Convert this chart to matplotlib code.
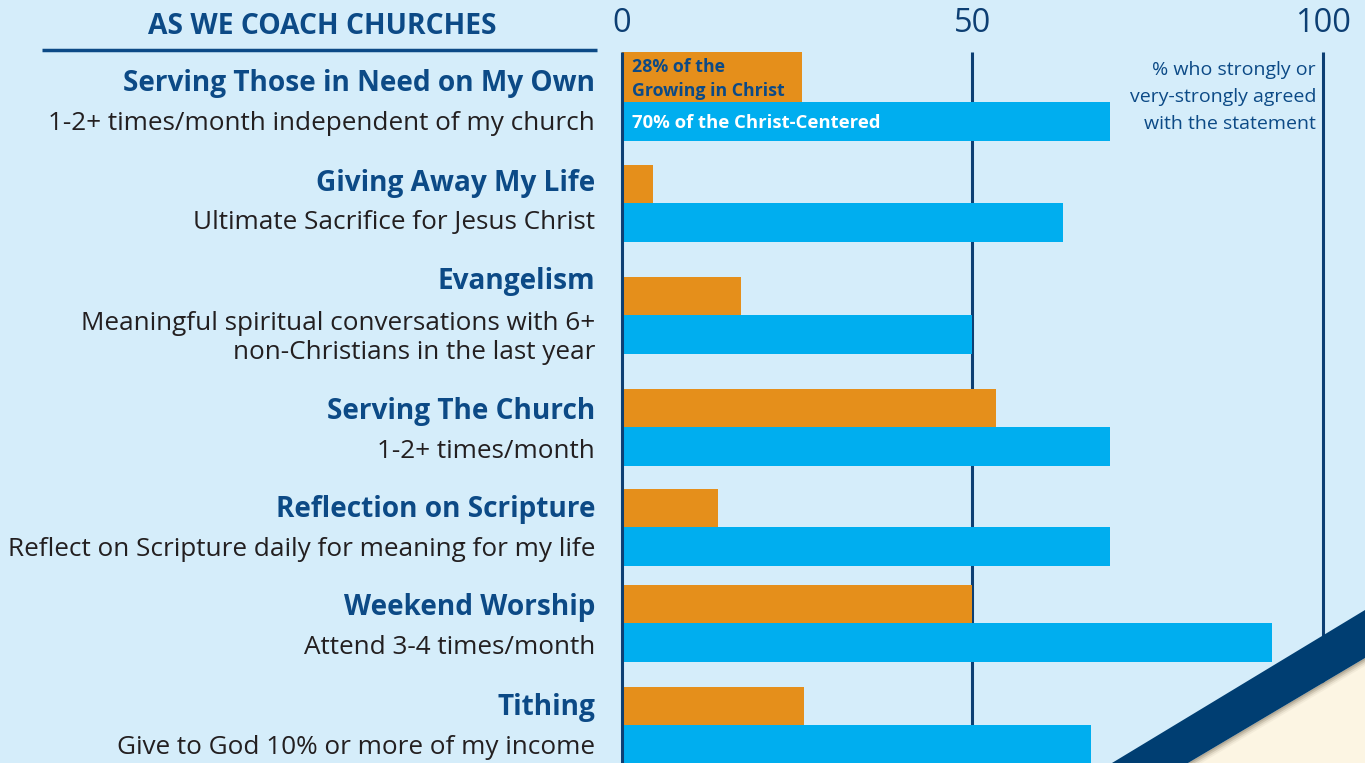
import matplotlib
matplotlib.use("Agg")
import matplotlib.pyplot as plt
from matplotlib.patches import Polygon

# ---------------- data ----------------
titles = ["Serving Those in Need on My Own", "Giving Away My Life", "Evangelism",
          "Serving The Church", "Reflection on Scripture", "Weekend Worship", "Tithing"]
subtitles = ["1-2+ times/month independent of my church", "Ultimate Sacrifice for Jesus Christ",
             "Meaningful spiritual conversations with 6+\nnon-Christians in the last year",
             "1-2+ times/month", "Reflect on Scripture daily for meaning for my life",
             "Attend 3-4 times/month", "Give to God 10% or more of my income"]
growing = [25.7, 4.4, 17.0, 53.3, 13.7, 50.0, 25.9]        # orange: Growing in Christ
centered = [69.6, 62.9, 50.0, 69.6, 69.6, 92.7, 66.9]      # blue: Christ-Centered
tick_values = [0, 50, 100]
header = "AS WE COACH CHURCHES"
note = "% who strongly or\nvery-strongly agreed\nwith the statement"
label_growing = "28% of the\nGrowing in Christ"
label_centered = "70% of the Christ-Centered"

# ---------------- layout (pixel space) ----------------
W, H = 1365, 763
BG = "#d5edfa"
ORANGE = "#e58f1b"
BLUE = "#00aeef"
NAVY = "#0c4a86"
LINE = "#0d3f73"
GRAY = "#231f20"
FONT = ["Open Sans", "DejaVu Sans"]

group_tops = [52, 165, 277, 389, 489, 585, 687]
orange_h = [50, 38, 38, 38, 38, 38, 38]
blue_h = 39
title_y = [84, 183, 282, 411, 510, 608, 707]
sub_y = [124, 223, 338, 451, 550, 648, 747]

fig = plt.figure(figsize=(W / 100, H / 100), dpi=100)
fig.patch.set_facecolor(BG)

x0_px, x100_px = 622, 1323
ax = fig.add_axes([x0_px / W, 0, (x100_px - x0_px) / W, 1])
ax.set_xlim(0, 100)
ax.set_ylim(H, 0)
ax.axis("off")

ov = fig.add_axes([0, 0, 1, 1], zorder=5)
ov.set_xlim(0, W)
ov.set_ylim(H, 0)
ov.axis("off")
ov.patch.set_alpha(0)

# reference lines
for v in tick_values:
    z = 4 if v == 0 else 0
    ax.plot([v, v], [52, H], color=LINE, lw=2.2, zorder=z, solid_capstyle="butt",
            clip_on=False)
    ax.text(v, 24, str(v), ha="center", va="center", fontsize=23.5, color=LINE,
            family=FONT, fontweight="normal")

# bars
for i in range(len(titles)):
    oh = orange_h[i]
    ax.barh(group_tops[i] + oh / 2, growing[i], height=oh, color=ORANGE, zorder=2)
    ax.barh(group_tops[i] + oh + blue_h / 2, centered[i], height=blue_h, color=BLUE, zorder=2)

# bar labels
ax.text(1.4, 79, label_growing, ha="left", va="center", fontsize=12.8, fontweight="bold",
        color=NAVY, family=FONT, linespacing=1.4, zorder=5)
ax.text(1.4, 123, label_centered, ha="left", va="center", fontsize=13.3, fontweight="bold",
        color="white", family=FONT, zorder=5)

# left labels
ov.text(322, 27, header, ha="center", va="center", fontsize=20.3, fontweight="bold",
        color=NAVY, family=FONT)
ov.plot([42, 597], [50, 50], color=NAVY, lw=2.5, solid_capstyle="butt")
for i in range(len(titles)):
    ov.text(595, title_y[i], titles[i], ha="right", va="center", fontsize=20.2,
            fontweight="bold", color=NAVY, family=FONT)
    ov.text(595, sub_y[i], subtitles[i], ha="right", va="center", fontsize=18.8,
            color=GRAY, family=FONT, linespacing=1.2, multialignment="right")

# note
ov.text(1316, 97, note, ha="right", va="center", fontsize=14, color=NAVY,
        family=FONT, linespacing=1.62, multialignment="right")

# decorative corner
ov.add_patch(Polygon([(1188, 763), (1365, 658), (1365, 763)], closed=True,
                     facecolor="#fcf5e3", edgecolor="none", zorder=6))
for k, a in enumerate([0.35, 0.25, 0.15, 0.08]):
    d = 2 + k * 2
    ov.add_patch(Polygon([(1188, 763), (1365, 658), (1365, 658 + d), (1188 + d * 1.7, 763)],
                         closed=True, facecolor="#8a7f6a", alpha=a, edgecolor="none", zorder=6))
ov.add_patch(Polygon([(1112, 763), (1365, 610), (1365, 658), (1188, 763)], closed=True,
                     facecolor="#003e72", edgecolor="none", zorder=7))

fig.savefig("out.png", dpi=100, facecolor=BG)
